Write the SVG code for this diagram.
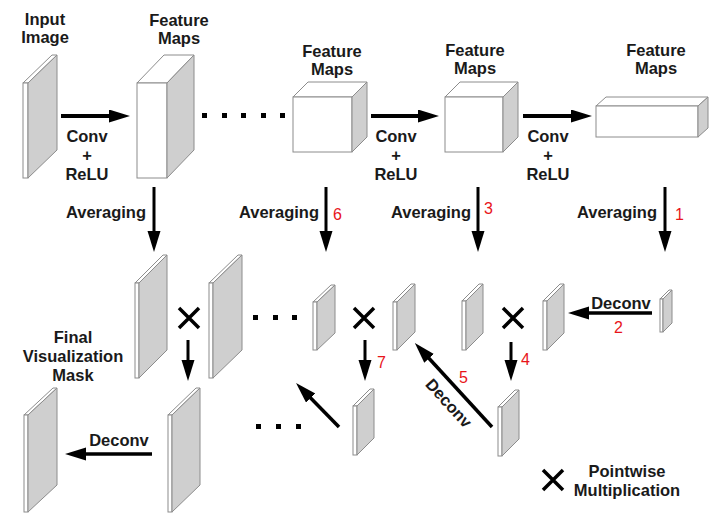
<svg xmlns="http://www.w3.org/2000/svg" width="728" height="527" viewBox="0 0 728 527">
<style>
.lbl{font-family:"Liberation Sans",Arial,sans-serif;font-weight:bold;font-size:16.5px;fill:#1a1a1a;text-anchor:middle}
.num{font-family:"Liberation Sans",Arial,sans-serif;font-size:16px;fill:#e8141a}
.front{fill:#ffffff;stroke:#8c8c8c;stroke-width:1}
.side{fill:#cfcfcf;stroke:#8c8c8c;stroke-width:1}
.arr{stroke:#000;fill:none;marker-end:url(#ah)}
.x{stroke:#000;stroke-width:3.5;fill:none}
.dot{fill:#000}
</style>
<defs>
<marker id="ah" markerUnits="userSpaceOnUse" markerWidth="22" markerHeight="14" refX="6" refY="6.5" orient="auto">
<path d="M0,0 L21,6.5 L0,13 z" fill="#000"/>
</marker>
</defs>
<rect width="728" height="527" fill="#fff"/>

<!-- top row -->
<g id="input-image">
<polygon class="front" points="23,83 52,55 57,55 28,83"/>
<rect class="front" x="23" y="83" width="5" height="95"/>
<polygon class="side" points="28,83 57,55 57,150 28,178"/>
<text class="lbl" x="45" y="25">Input</text>
<text class="lbl" x="45" y="43">Image</text>
</g>
<g id="fmap1">
<polygon class="front" points="137,83 164,55 194,55 167,83"/>
<rect class="front" x="137" y="83" width="30" height="95"/>
<polygon class="side" points="167,83 194,55 194,150 167,178"/>
<text class="lbl" x="179" y="26">Feature</text>
<text class="lbl" x="179" y="44">Maps</text>
</g>
<g id="fmap2">
<polygon class="front" points="293,97 308,82 367,82 352,97"/>
<rect class="front" x="293" y="97" width="59" height="55"/>
<polygon class="side" points="352,97 367,82 367,137 352,152"/>
<text class="lbl" x="332" y="57">Feature</text>
<text class="lbl" x="332" y="75">Maps</text>
</g>
<g id="fmap3">
<polygon class="front" points="445,97 460,82 518,82 503,97"/>
<rect class="front" x="445" y="97" width="58" height="55"/>
<polygon class="side" points="503,97 518,82 518,137 503,152"/>
<text class="lbl" x="475" y="56">Feature</text>
<text class="lbl" x="475" y="74">Maps</text>
</g>
<g id="fmap4">
<polygon class="front" points="596,106 606,97 708,97 698,106"/>
<rect class="front" x="596" y="106" width="102" height="31"/>
<polygon class="side" points="698,106 708,97 708,128 698,137"/>
<text class="lbl" x="656" y="56">Feature</text>
<text class="lbl" x="656" y="74">Maps</text>
</g>
<g id="dots-top">
<rect class="dot" x="202" y="113" width="5" height="5"/>
<rect class="dot" x="222" y="113" width="5" height="5"/>
<rect class="dot" x="241" y="113" width="5" height="5"/>
<rect class="dot" x="261" y="113" width="5" height="5"/>
<rect class="dot" x="280" y="113" width="5" height="5"/>
</g>

<!-- averaged maps row -->
<g id="avgA">
<polygon class="front" points="135,283 163,255 167,255 139,283"/>
<rect class="front" x="135" y="283" width="4" height="95"/>
<polygon class="side" points="139,283 167,255 167,350 139,378"/>
</g>
<g id="avgB">
<polygon class="front" points="209,283 238,255 242,255 213,283"/>
<rect class="front" x="209" y="283" width="4" height="95"/>
<polygon class="side" points="213,283 242,255 242,350 213,378"/>
</g>
<g id="avgC">
<polygon class="front" points="313,302 331,285 335,285 317,302"/>
<rect class="front" x="313" y="302" width="4" height="48"/>
<polygon class="side" points="317,302 335,285 335,333 317,350"/>
</g>
<g id="avgD">
<polygon class="front" points="393,302 411,284 415,284 397,302"/>
<rect class="front" x="393" y="302" width="4" height="48"/>
<polygon class="side" points="397,302 415,284 415,332 397,350"/>
</g>
<g id="avgH">
<polygon class="front" points="462,301 479,284 483,284 466,301"/>
<rect class="front" x="462" y="301" width="4" height="49"/>
<polygon class="side" points="466,301 483,284 483,333 466,350"/>
</g>
<g id="avgI">
<polygon class="front" points="543,301 560,284 564,284 547,301"/>
<rect class="front" x="543" y="301" width="4" height="49"/>
<polygon class="side" points="547,301 564,284 564,333 547,350"/>
</g>
<g id="avgJ">
<polygon class="front" points="660,299 669,290 672,290 663,299"/>
<rect class="front" x="660" y="299" width="3" height="33"/>
<polygon class="side" points="663,299 672,290 672,323 663,332"/>
</g>
<g id="dots-mid">
<rect class="dot" x="253" y="315" width="5" height="5"/>
<rect class="dot" x="273" y="315" width="5" height="5"/>
<rect class="dot" x="292" y="315" width="5" height="5"/>
</g>

<!-- product row -->
<g id="prodE">
<polygon class="front" points="353,406 370,389 374,389 357,406"/>
<rect class="front" x="353" y="406" width="4" height="49"/>
<polygon class="side" points="357,406 374,389 374,438 357,455"/>
</g>
<g id="prodK">
<polygon class="front" points="498,407 515,390 519,390 502,407"/>
<rect class="front" x="498" y="407" width="4" height="49"/>
<polygon class="side" points="502,407 519,390 519,439 502,456"/>
</g>
<g id="prodF">
<polygon class="front" points="168,415 196,388 200,388 172,415"/>
<rect class="front" x="168" y="415" width="4" height="97"/>
<polygon class="side" points="172,415 200,388 200,485 172,512"/>
</g>
<g id="final-mask">
<polygon class="front" points="24,415 53,388 57,388 28,415"/>
<rect class="front" x="24" y="415" width="4" height="97"/>
<polygon class="side" points="28,415 57,388 57,485 28,512"/>
<text class="lbl" x="73" y="343">Final</text>
<text class="lbl" x="73" y="362">Visualization</text>
<text class="lbl" x="73" y="381">Mask</text>
</g>
<g id="dots-bottom">
<rect class="dot" x="256" y="424" width="5" height="5"/>
<rect class="dot" x="276" y="424" width="5" height="5"/>
<rect class="dot" x="296" y="424" width="5" height="5"/>
</g>

<!-- pointwise multiplication marks -->
<g id="mult-marks">
<path class="x" d="M179,308 L199,328 M199,308 L179,328"/>
<path class="x" d="M354,308 L374,328 M374,308 L354,328"/>
<path class="x" d="M503,308 L523,328 M523,308 L503,328"/>
</g>

<g id="legend">
<path class="x" d="M543,470 L563,490 M563,470 L543,490"/>
<text class="lbl" x="627" y="477">Pointwise</text>
<text class="lbl" x="627" y="496">Multiplication</text>
</g>

<!-- connectors -->
<g id="connectors">
<line class="arr" stroke-width="4" x1="61" y1="116" x2="115" y2="116"/>
<line class="arr" stroke-width="4" x1="371" y1="116" x2="424" y2="116"/>
<line class="arr" stroke-width="4" x1="523" y1="116" x2="577" y2="116"/>
<line class="arr" stroke-width="3" x1="154" y1="187" x2="154" y2="237"/>
<line class="arr" stroke-width="3" x1="326" y1="187" x2="326" y2="237"/>
<line class="arr" stroke-width="3" x1="478" y1="187" x2="478" y2="237"/>
<line class="arr" stroke-width="3" x1="665" y1="187" x2="665" y2="237"/>
<line class="arr" stroke-width="3" x1="188" y1="340" x2="188" y2="366"/>
<line class="arr" stroke-width="3" x1="365" y1="340" x2="365" y2="366"/>
<line class="arr" stroke-width="3" x1="511" y1="342" x2="511" y2="366"/>
<line class="arr" stroke-width="3.5" x1="652" y1="313" x2="583" y2="313"/>
<line class="arr" stroke-width="3.5" x1="492" y1="427" x2="425" y2="354"/>
<line class="arr" stroke-width="3.5" x1="339" y1="427" x2="306.5" y2="393.7"/>
<line class="arr" stroke-width="3.5" x1="152" y1="454" x2="80" y2="454"/>
</g>

<g id="connector-labels">
<text class="lbl" x="87" y="142">Conv</text>
<text class="lbl" x="87" y="161">+</text>
<text class="lbl" x="87" y="180">ReLU</text>
<text class="lbl" x="396" y="142">Conv</text>
<text class="lbl" x="396" y="161">+</text>
<text class="lbl" x="396" y="180">ReLU</text>
<text class="lbl" x="548" y="142">Conv</text>
<text class="lbl" x="548" y="161">+</text>
<text class="lbl" x="548" y="180">ReLU</text>
<text class="lbl" x="106" y="218">Averaging</text>
<text class="lbl" x="279" y="218">Averaging</text>
<text class="lbl" x="431" y="218">Averaging</text>
<text class="lbl" x="617" y="218">Averaging</text>
<text class="lbl" x="621" y="309">Deconv</text>
<text class="lbl" x="119" y="446">Deconv</text>
<text class="lbl" transform="translate(449,403) rotate(47.5)" x="0" y="6">Deconv</text>
<text class="num" x="333" y="220">6</text>
<text class="num" x="484" y="214">3</text>
<text class="num" x="675" y="220">1</text>
<text class="num" x="614" y="333">2</text>
<text class="num" x="521" y="365">4</text>
<text class="num" x="459" y="383">5</text>
<text class="num" x="377" y="368">7</text>
</g>
</svg>
